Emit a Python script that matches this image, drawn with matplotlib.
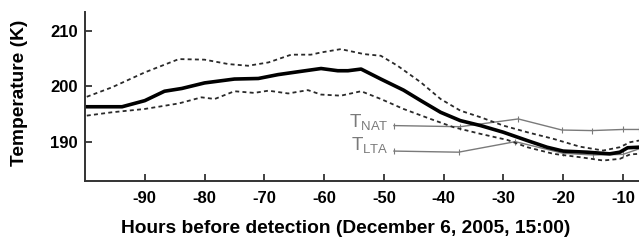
import matplotlib
matplotlib.use('Agg')
import matplotlib.pyplot as plt

plt.rcParams['font.family'] = ['Liberation Sans', 'DejaVu Sans']
plt.rcParams['axes.unicode_minus'] = False

# mean temperature along trajectory
hours = [-99.7, -93.8, -90, -86.7, -83.8, -80, -75, -71, -67.7, -63.8, -60.5,
         -57.7, -56, -53.8, -50.5, -46.7, -43.8, -40.5, -37.2, -33.8, -30,
         -26, -22.7, -20, -16, -12.2, -10.5, -9.2, -7.3]
temp_mean = [196.3, 196.3, 197.4, 199.1, 199.6, 200.6, 201.3, 201.4, 202.1, 202.7, 203.2,
             202.8, 202.8, 203.1, 201.3, 199.3, 197.4, 195.3, 193.8, 192.9, 191.7,
             190.2, 189.0, 188.3, 188.1, 187.8, 188.1, 188.9, 189.0]

hours_up = [-99.7, -95.5, -90, -84.3, -80, -76, -72.7, -69.3, -65.5, -62.2, -60.5,
            -57.2, -53.3, -50.5, -47.7, -43.8, -40.5, -37.2, -33.8, -30, -26,
            -21.6, -17.2, -13.3, -10.5, -8.8, -7.3]
temp_up = [198.1, 199.8, 202.5, 204.9, 204.8, 204.0, 203.7, 204.3, 205.7, 205.7, 206.1,
           206.7, 205.8, 205.5, 203.7, 200.7, 197.7, 195.6, 194.4, 192.9, 191.7,
           190.5, 189.1, 188.4, 189.0, 189.9, 190.2]

hours_lo = [-99.7, -95.5, -90, -84.3, -80.5, -78.3, -75, -71.7, -69.3, -66, -62.7, -60.5,
            -57.2, -53.8, -50.5, -46.7, -42.2, -38.3, -33.8, -29.3, -26,
            -21.6, -17.2, -13.3, -10.5, -8.8, -7.3]
temp_lo = [194.7, 195.3, 195.9, 196.9, 198.0, 197.7, 199.1, 198.8, 199.2, 198.7, 199.3, 198.5,
           198.3, 199.1, 197.7, 195.9, 194.1, 192.6, 191.4, 190.3, 189.0,
           187.8, 187.2, 186.6, 186.9, 187.7, 187.8]

hours_nat = [-48.3, -37.2, -27.5, -20.2, -15.2, -10.0, -7.3]
temp_nat = [192.9, 192.7, 194.1, 192.1, 192.0, 192.2, 192.2]

hours_lta = [-48.3, -37.5, -28.0, -20.0, -15.0, -10.0, -7.3]
temp_lta = [188.3, 188.1, 190.0, 187.9, 187.6, 187.7, 188.7]

fig = plt.figure(figsize=(6.39, 2.4), dpi=100)
ax = fig.add_axes([85/639, 1 - 181/240, 1 - 85/639, 169/240])

gray = '#7a7a7a'
ax.plot(hours_nat, temp_nat, color=gray, lw=1.0, marker='|', ms=4, mew=0.8)
ax.plot(hours_lta, temp_lta, color=gray, lw=1.0, marker='|', ms=4, mew=0.8)
ax.plot(hours_up, temp_up, color='#2a2a2a', lw=1.3, ls=(0, (2.2, 1.8)))
ax.plot(hours_lo, temp_lo, color='#2a2a2a', lw=1.3, ls=(0, (2.2, 1.8)))
ax.plot(hours, temp_mean, color='black', lw=2.6)

ax.text(-49.2, 192.5, r'T$_{\mathregular{NAT}}$', color=gray, fontsize=13.5,
        ha='right', va='baseline')
ax.text(-49.2, 188.3, r'T$_{\mathregular{LTA}}$', color=gray, fontsize=13.5,
        ha='right', va='baseline')

ax.set_xlim(-100, -7.3)
ax.set_ylim(182.9, 213.4)
ax.set_xticks([-90, -80, -70, -60, -50, -40, -30, -20, -10])
ax.set_yticks([190, 200, 210])

for s in ['top', 'right']:
    ax.spines[s].set_visible(False)
for s in ['left', 'bottom']:
    ax.spines[s].set_color('#333333')
    ax.spines[s].set_linewidth(1.4)

ax.tick_params(direction='in', length=5, width=1.3, color='#333333')
ax.tick_params(axis='x', pad=7)
ax.tick_params(axis='y', pad=5)
for lab in ax.get_xticklabels() + ax.get_yticklabels():
    lab.set_fontsize(12)
    lab.set_fontweight('bold')

ax.set_xlabel('Hours before detection (December 6, 2005, 15:00)', fontsize=13.8, fontweight='bold')
ax.set_ylabel('Temperature (K)', fontsize=13.8, fontweight='bold')
ax.xaxis.set_label_coords(0.471, -0.232)
ax.yaxis.set_label_coords(-0.103, 0.52)

fig.savefig('out.png', dpi=100)
